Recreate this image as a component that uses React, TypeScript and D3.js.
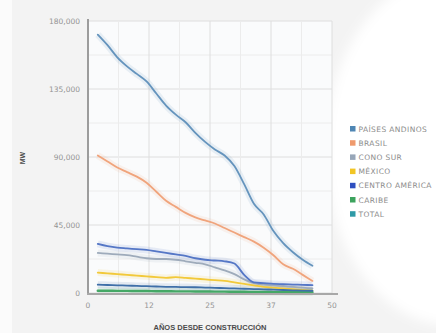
import React from "react";
import * as d3 from "d3";

// Years since construction (sampled every two years)
const years = [2, 4, 6, 8, 10, 12, 14, 16, 18, 20, 22, 24, 26, 28, 30, 32, 34, 36, 38, 40, 42, 44, 46];

// Installed capacity (MW) older than the given age, by region
const andinos = [171000, 164000, 156000, 150000, 145000, 140000, 132000, 124000, 118000, 113000, 106000, 100000, 95000, 91000, 84000, 72000, 59000, 52000, 41000, 33000, 27000, 22000, 18000];
const brasil = [91000, 87000, 83000, 80000, 77000, 73000, 67000, 61000, 57000, 53000, 50000, 48000, 46000, 43000, 40000, 37000, 34000, 30000, 25000, 19000, 16000, 12000, 8000];
const conoSur = [26500, 26000, 25500, 25000, 24000, 23000, 22500, 22500, 22000, 21000, 20000, 19000, 17000, 15000, 12500, 9000, 6500, 5500, 5000, 4500, 4000, 3500, 3000];
const mexico = [13500, 13000, 12500, 12000, 11500, 11000, 10500, 10000, 10500, 10000, 9500, 9000, 8500, 8000, 7000, 6000, 5000, 4000, 3500, 3000, 2500, 2000, 1500];
const centroAmerica = [32500, 31000, 30000, 29500, 29000, 28500, 27500, 26500, 25500, 24500, 23000, 22000, 21500, 21000, 19500, 12000, 7000, 6500, 6000, 5800, 5600, 5400, 5200];
const caribe = [1500, 1500, 1400, 1400, 1300, 1300, 1200, 1200, 1100, 1100, 1000, 1000, 900, 900, 800, 800, 700, 700, 600, 600, 500, 500, 500];
const total = [5500, 5300, 5100, 4900, 4700, 4500, 4300, 4100, 4000, 3900, 3800, 3600, 3400, 3200, 3000, 2800, 2600, 2400, 2200, 2000, 1800, 1600, 1500];

const seriesNames = ["PAÍSES ANDINOS", "BRASIL", "CONO SUR", "MÉXICO", "CENTRO AMÉRICA", "CARIBE", "TOTAL"];
const seriesValues = [andinos, brasil, conoSur, mexico, centroAmerica, caribe, total];
const seriesColors = ["#6594bd", "#f0a47c", "#9eabbb", "#f2c93a", "#5577c6", "#45a866", "#3f6fa8"];
const legendColors = ["#4f86b4", "#ef9a6c", "#97a6b8", "#f2c524", "#2f4fbf", "#3da35e", "#2f9aa6"];

const yTicks = [0, 45000, 90000, 135000, 180000];
const yTickLabels = ["0", "45,000", "90,000", "135,000", "180,000"];
const xTicks = [0, 12.5, 25, 37.5, 50];
const xTickLabels = ["0", "12", "25", "37", "50"];

const W = 436;
const H = 333;

export default function App() {
  const x = d3.scaleLinear().domain([0, 50]).range([88, 332]);
  const y = d3.scaleLinear().domain([0, 180000]).range([293, 21]);

  const line = d3
    .line<number>()
    .x((_, i) => x(years[i]))
    .y((v) => y(v))
    .curve(d3.curveMonotoneX);

  const minorX = d3.range(0, 50.01, 6.25);
  const minorY = d3.range(0, 180001, 22500);

  const font = "'DejaVu Sans', 'Liberation Sans', sans-serif";

  return (
    <svg
      width={W}
      height={H}
      style={{ position: "absolute", left: 0, top: 0 }}
      xmlns="http://www.w3.org/2000/svg"
    >
      <defs>
        <filter id="soft" x="-50%" y="-50%" width="200%" height="200%">
          <feGaussianBlur stdDeviation="6" />
        </filter>
      </defs>
      <rect x={0} y={0} width={W} height={H} fill="#f3f3f3" />
      <rect x={0} y={0} width={12} height={H} fill="#fbfbfb" />
      <ellipse cx={450} cy={150} rx={125} ry={175} fill="#ffffff" filter="url(#soft)" />
      <rect x={x(0)} y={y(180000)} width={x(50) - x(0)} height={y(0) - y(180000)} fill="#fafbfc" />

      {/* grid */}
      {minorY.map((v) => (
        <line key={"gy" + v} x1={x(0)} x2={x(50)} y1={y(v)} y2={y(v)} stroke={v % 45000 === 0 ? "#dedede" : "#ececec"} strokeWidth={1} />
      ))}
      {minorX.map((v) => (
        <line key={"gx" + v} x1={x(v)} x2={x(v)} y1={y(180000)} y2={y(0)} stroke={v % 12.5 === 0 ? "#dedede" : "#ececec"} strokeWidth={1} />
      ))}

      {/* series halos */}
      {seriesValues.map((vals, i) => (
        <path key={"h" + i} d={line(vals) || ""} fill="none" stroke={seriesColors[i]} strokeOpacity={0.12} strokeWidth={7} strokeLinejoin="round" />
      ))}
      {/* series lines */}
      {seriesValues.map((vals, i) => (
        <path key={"l" + i} d={line(vals) || ""} fill="none" stroke={seriesColors[i]} strokeWidth={i === 5 ? 2.4 : 1.8} strokeLinejoin="round" strokeLinecap="round" />
      ))}

      {/* axes */}
      <line x1={x(0)} x2={x(0)} y1={y(180000) - 2} y2={y(0) + 2} stroke="#9c9c9c" strokeWidth={2} />
      <line x1={x(0) - 1} x2={x(50) + 6} y1={y(0) + 1} y2={y(0) + 1} stroke="#a8a8a8" strokeWidth={2} />

      {yTicks.map((v, i) => (
        <text key={"yt" + v} x={80} y={y(v) + 3} textAnchor="end" fontFamily={font} fontSize={7.5} fill="#939393">
          {yTickLabels[i]}
        </text>
      ))}
      {xTicks.map((v, i) => (
        <text key={"xt" + v} x={x(v)} y={308} textAnchor="middle" fontFamily={font} fontSize={7.5} fill="#939393">
          {xTickLabels[i]}
        </text>
      ))}

      <text x={210} y={330} textAnchor="middle" fontFamily="'Liberation Sans', sans-serif" fontWeight="bold" fontSize={7.5} fill="#4a4a4a">
        AÑOS DESDE CONSTRUCCIÓN
      </text>
      <text transform="translate(25,158) rotate(-90)" textAnchor="middle" fontFamily="'Liberation Sans', sans-serif" fontWeight="bold" fontSize={7} fill="#4a4a4a">
        MW
      </text>

      {/* legend */}
      {seriesNames.map((name, i) => (
        <g key={"lg" + i} transform={`translate(350, ${129 + i * 14.2})`}>
          <rect x={0} y={-3} width={5.5} height={5.5} fill={legendColors[i]} />
          <text x={8.5} y={2.5} fontFamily={font} fontSize={7.5} letterSpacing={0.4} fill="#8c8c8c">
            {name}
          </text>
        </g>
      ))}
    </svg>
  );
}
